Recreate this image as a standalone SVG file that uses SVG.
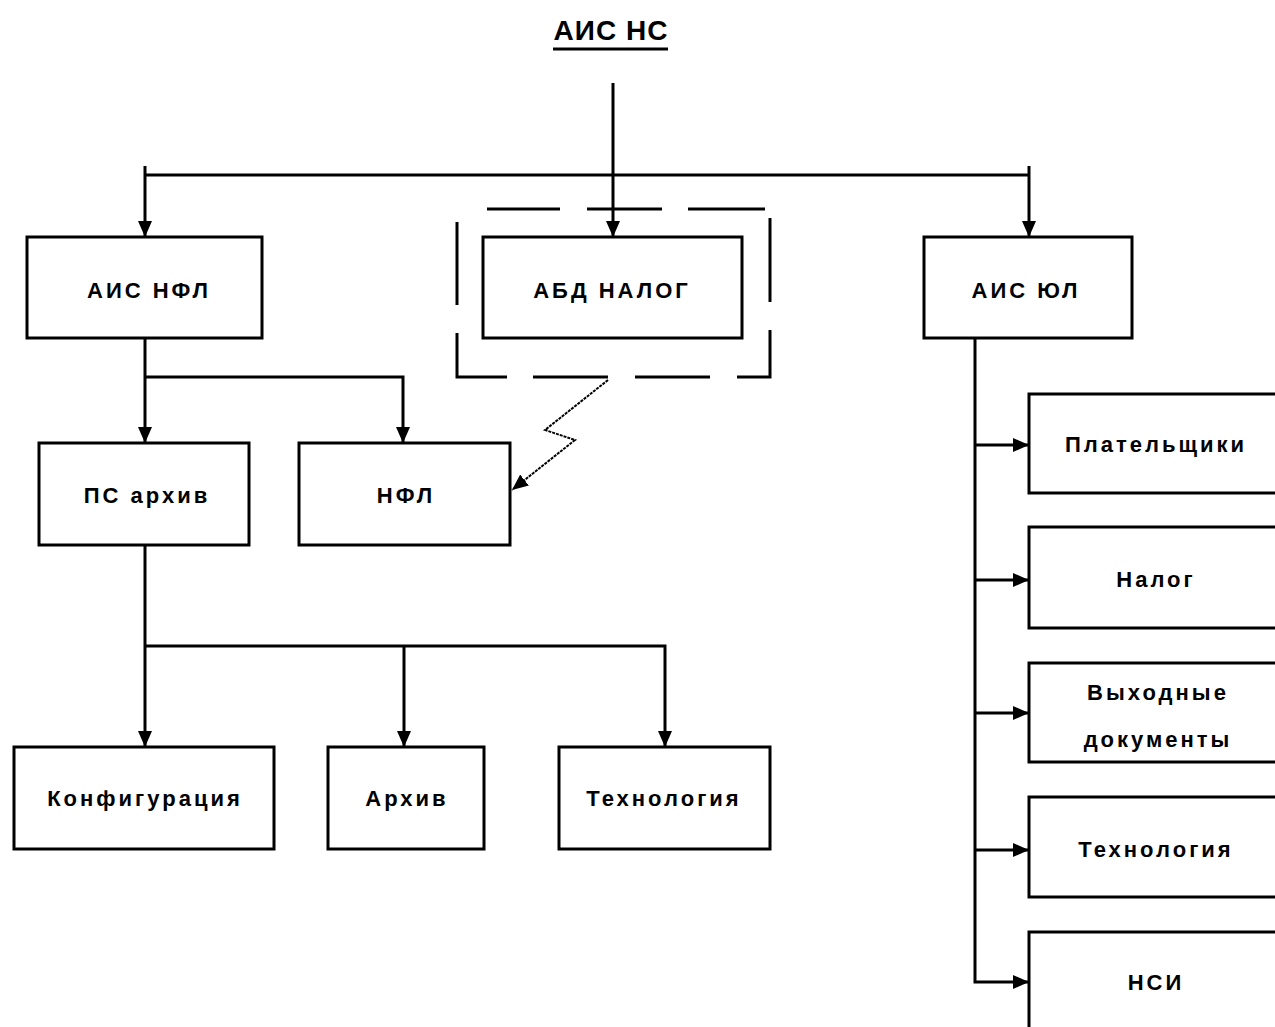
<svg xmlns="http://www.w3.org/2000/svg" width="1275" height="1027" viewBox="0 0 1275 1027">
  <style>
    .box { fill: #ffffff; stroke: #000000; stroke-width: 3; }
    .frame { stroke: #000000; stroke-width: 3; fill: none; }
    .wire { stroke: #000000; stroke-width: 3; fill: none; }
    .zig { stroke: #000000; stroke-width: 2; fill: none; stroke-dasharray: 3 1; }
    .lbl { font-family: "Liberation Sans", "DejaVu Sans", sans-serif; font-size: 22px; font-weight: bold; letter-spacing: 3px; fill: #000000; text-anchor: middle; }
    .title { font-family: "Liberation Sans", "DejaVu Sans", sans-serif; font-size: 28px; font-weight: bold; letter-spacing: 1px; fill: #000000; text-anchor: middle; }
  </style>
  <defs>
    <marker id="arrow" markerUnits="userSpaceOnUse" markerWidth="18" markerHeight="16" refX="16" refY="8" orient="auto">
      <path d="M0,1 L16,8 L0,15 Z" fill="#000000"/>
    </marker>
  </defs>

  <rect width="1275" height="1027" fill="#ffffff"/>

  <!-- top-level system title -->
  <g id="ais-ns">
    <text class="title" x="611" y="40">АИС НС</text>
    <line x1="553" y1="49" x2="668" y2="49" stroke="#000000" stroke-width="3"/>
  </g>

  <!-- dashed enclosure around the tax database -->
  <g id="abd-frame" class="frame">
    <line x1="487" y1="209" x2="560" y2="209"/>
    <line x1="587" y1="209" x2="662" y2="209"/>
    <line x1="688" y1="209" x2="765" y2="209"/>
    <line x1="457" y1="222" x2="457" y2="305"/>
    <polyline points="457,333 457,377 507,377"/>
    <line x1="533" y1="377" x2="608" y2="377"/>
    <line x1="635" y1="377" x2="710" y2="377"/>
    <polyline points="737,377 770,377 770,330"/>
    <line x1="770" y1="218" x2="770" y2="302"/>
  </g>

  <!-- connectors -->
  <g id="connectors" class="wire">
    <path d="M613,83 V237" marker-end="url(#arrow)"/>
    <path d="M145,175 H1029"/>
    <path d="M145,166 V237" marker-end="url(#arrow)"/>
    <path d="M1029,166 V237" marker-end="url(#arrow)"/>

    <path d="M145,339 V443" marker-end="url(#arrow)"/>
    <path d="M145,377 H403 V443" marker-end="url(#arrow)"/>

    <path d="M145,546 V747" marker-end="url(#arrow)"/>
    <path d="M145,646 H665 V747" marker-end="url(#arrow)"/>
    <path d="M404,646 V747" marker-end="url(#arrow)"/>

    <path d="M975,339 V982 H1029" marker-end="url(#arrow)"/>
    <path d="M975,445 H1029" marker-end="url(#arrow)"/>
    <path d="M975,580 H1029" marker-end="url(#arrow)"/>
    <path d="M975,713 H1029" marker-end="url(#arrow)"/>
    <path d="M975,850 H1029" marker-end="url(#arrow)"/>

    <path class="zig" d="M608,380 L545,430 L575,440 L512,490" marker-end="url(#arrow)"/>
  </g>

  <g id="ais-nfl">
    <rect class="box" x="27" y="237" width="235" height="101"/>
    <text class="lbl" x="149" y="298">АИС НФЛ</text>
  </g>

  <g id="abd-nalog">
    <rect class="box" x="483" y="237" width="259" height="101"/>
    <text class="lbl" x="612" y="298">АБД НАЛОГ</text>
  </g>

  <g id="ais-yul">
    <rect class="box" x="924" y="237" width="208" height="101"/>
    <text class="lbl" x="1026" y="298">АИС ЮЛ</text>
  </g>

  <g id="ps-arhiv">
    <rect class="box" x="39" y="443" width="210" height="102"/>
    <text class="lbl" x="147" y="503">ПС архив</text>
  </g>

  <g id="nfl">
    <rect class="box" x="299" y="443" width="211" height="102"/>
    <text class="lbl" x="406" y="503">НФЛ</text>
  </g>

  <g id="konfiguraciya">
    <rect class="box" x="14" y="747" width="260" height="102"/>
    <text class="lbl" x="145" y="806">Конфигурация</text>
  </g>

  <g id="arhiv">
    <rect class="box" x="328" y="747" width="156" height="102"/>
    <text class="lbl" x="407" y="806">Архив</text>
  </g>

  <g id="tehnologiya-ps">
    <rect class="box" x="559" y="747" width="211" height="102"/>
    <text class="lbl" x="664" y="806">Технология</text>
  </g>

  <g id="platelshchiki">
    <rect class="box" x="1029" y="394" width="260" height="99"/>
    <text class="lbl" x="1156" y="452">Плательщики</text>
  </g>

  <g id="nalog">
    <rect class="box" x="1029" y="527" width="260" height="101"/>
    <text class="lbl" x="1156" y="587">Налог</text>
  </g>

  <g id="vyhodnye-dokumenty">
    <rect class="box" x="1029" y="663" width="260" height="99"/>
    <text class="lbl" x="1158" y="700">Выходные</text>
    <text class="lbl" x="1158" y="747">документы</text>
  </g>

  <g id="tehnologiya-yul">
    <rect class="box" x="1029" y="797" width="260" height="100"/>
    <text class="lbl" x="1156" y="857">Технология</text>
  </g>

  <g id="nsi">
    <rect class="box" x="1029" y="932" width="260" height="110"/>
    <text class="lbl" x="1156" y="990">НСИ</text>
  </g>
</svg>
